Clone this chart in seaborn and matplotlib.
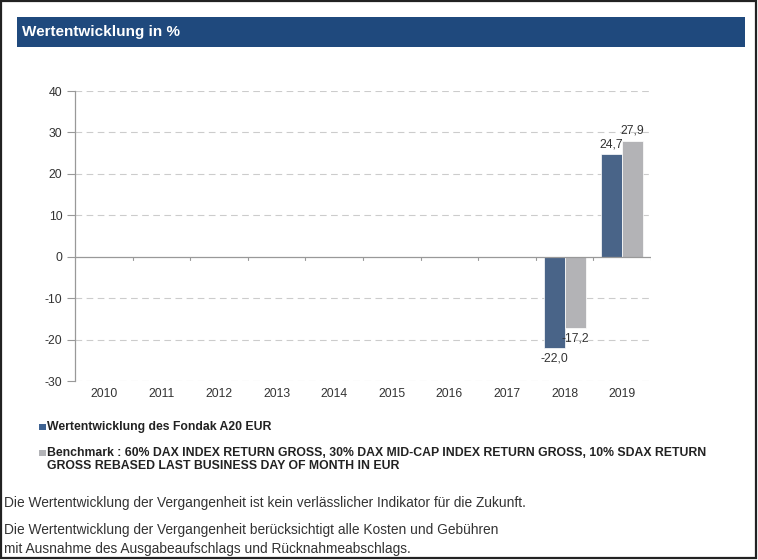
import numpy as np
import pandas as pd
import matplotlib
matplotlib.use("Agg")
import matplotlib.pyplot as plt
from matplotlib.patches import Rectangle
import seaborn as sns

# ---------------- data ----------------
years = ['2010', '2011', '2012', '2013', '2014', '2015', '2016', '2017', '2018', '2019']
fund = [np.nan, np.nan, np.nan, np.nan, np.nan, np.nan, np.nan, np.nan, -22.0, 24.7]
bench = [np.nan, np.nan, np.nan, np.nan, np.nan, np.nan, np.nan, np.nan, -17.2, 27.9]
series_names = ['Wertentwicklung des Fondak A20 EUR',
                'Benchmark : 60% DAX INDEX RETURN GROSS, 30% DAX MID-CAP INDEX RETURN GROSS, 10% SDAX RETURN\nGROSS REBASED LAST BUSINESS DAY OF MONTH IN EUR']
yticks = [-30, -20, -10, 0, 10, 20, 30, 40]
title = 'Wertentwicklung in %'
footer = ['Die Wertentwicklung der Vergangenheit ist kein verlässlicher Indikator für die Zukunft.',
          'Die Wertentwicklung der Vergangenheit berücksichtigt alle Kosten und Gebühren',
          'mit Ausnahme des Ausgabeaufschlags und Rücknahmeabschlags.']

fund_col = '#3F6392'
bench_col = '#B2B3B7'
W, H = 758, 560

df = pd.DataFrame({
    'year': years * 2,
    'value': fund + bench,
    'series': ['fund'] * len(years) + ['bench'] * len(years),
}).dropna()

sns.set_theme(style='white')
plt.rcParams['font.family'] = ['Liberation Sans', 'DejaVu Sans']
plt.rcParams['axes.unicode_minus'] = False

fig = plt.figure(figsize=(W / 100, H / 100), dpi=100)

def fx(px):
    return px / W

def fy(py):
    return 1 - py / H

# outer frame
fig.patches.append(Rectangle((fx(1), fy(558)), fx(755), 557 / H, transform=fig.transFigure,
                             fill=False, edgecolor='#222222', lw=1.6))
# title bar
fig.patches.append(Rectangle((fx(17), fy(47)), fx(728), 30 / H, transform=fig.transFigure,
                             facecolor='#1F497D', edgecolor='none'))
fig.text(fx(22), fy(32), title, color='white', fontsize=11, fontweight='bold', va='center', ha='left')

ax = fig.add_axes([fx(75), fy(381), fx(651 - 75), (381 - 91) / H])
sns.barplot(data=df, x='year', y='value', hue='series', order=years, hue_order=['fund', 'bench'],
            palette=[fund_col, bench_col], width=0.73, gap=0, edgecolor='white', linewidth=0.5,
            legend=False, ax=ax)

ax.set_xlim(-0.5, len(years) - 0.5)
ax.set_ylim(-30, 40)
ax.set_yticks(yticks)
ax.set_xlabel('')
ax.set_ylabel('')

for y in yticks:
    if y == 0:
        continue
    ax.axhline(y, color='#CCCCCC', lw=0.8, dashes=(6, 4), zorder=0)
ax.axhline(0, color='#999999', lw=0.9, zorder=3)
# small ticks on zero line between categories
for b in np.arange(0.5, len(years) - 0.4, 1):
    ax.plot([b, b], [0, -0.8], color='#999999', lw=0.8, zorder=3)

for s in ['top', 'right', 'bottom']:
    ax.spines[s].set_visible(False)
ax.spines['left'].set_color('#999999')
ax.spines['left'].set_linewidth(0.9)
ax.tick_params(axis='y', length=6, width=0.8, color='#999999', labelsize=8.8, labelcolor='#333333', pad=3, left=True)
ax.tick_params(axis='x', length=0, labelsize=8.8, labelcolor='#333333', pad=5)

# value labels
def fmt(v):
    return f'{v:.1f}'.replace('.', ',')

for cont, vals in zip(ax.containers, [fund, bench]):
    labels = [fmt(v) for v in vals if not np.isnan(v)]
    ax.bar_label(cont, labels=labels, fontsize=8.8, color='#333333', padding=3)

# legend
narrow = ['Liberation Sans Narrow', 'Liberation Sans', 'DejaVu Sans']
fig.patches.append(Rectangle((fx(39), fy(430)), fx(6.5), 6.5 / H, transform=fig.transFigure,
                             facecolor=fund_col, edgecolor='none'))
fig.text(fx(47), fy(427), series_names[0], fontsize=8.8, fontweight='bold', family=narrow,
         color='#222222', va='center')
fig.patches.append(Rectangle((fx(39), fy(456)), fx(6.5), 6.5 / H, transform=fig.transFigure,
                             facecolor=bench_col, edgecolor='none'))
fig.text(fx(47), fy(446.5), series_names[1], fontsize=8.8, fontweight='bold', family=narrow,
         color='#222222', va='top', linespacing=1.12)

# footer
for t, py in zip(footer, [507, 534, 553]):
    fig.text(fx(4), fy(py), t, fontsize=9.9, family=narrow, color='#333333', va='baseline')

fig.savefig('out.png', dpi=100)
